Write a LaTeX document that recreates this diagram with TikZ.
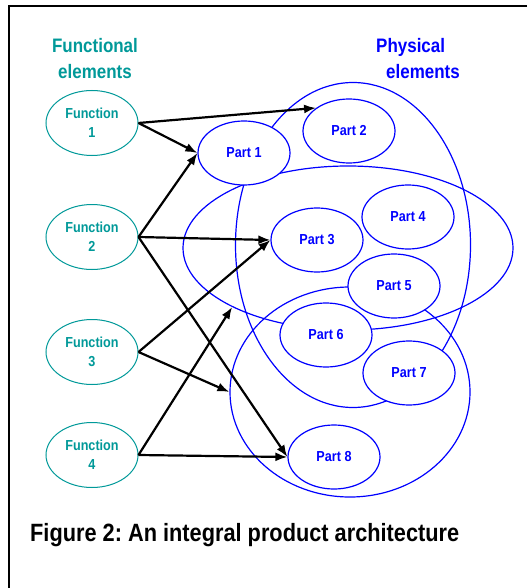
\documentclass[tikz,border=0pt]{standalone}
\usepackage{fontspec}
\setmainfont[FakeStretch=0.87]{Liberation Sans}
\usepackage{xcolor}
\usetikzlibrary{positioning, shapes.geometric, arrows.meta}
\definecolor{fteal}{RGB}{0,153,153}
\frenchspacing

\begin{document}
\begin{tikzpicture}[
          x=1pt, y=-1pt,
          fn/.style={ellipse,draw=fteal,line width=1pt,fill=white,minimum width=92pt,minimum height=65pt,inner sep=0pt,
            text=fteal,align=center,font=\bfseries\fontsize{14.5}{19}\selectfont},
          part/.style={ellipse,draw=blue,line width=1.2pt,fill=white,minimum width=92pt,minimum height=64pt,inner sep=0pt,
            text=blue,font=\bfseries\fontsize{14.5}{19}\selectfont},
          grp/.style={ellipse,draw=blue,line width=1.2pt,inner sep=0pt},
          head/.style={font=\bfseries\fontsize{19.5}{26}\selectfont,inner sep=0pt},
          arr/.style={-{Latex[length=12pt,width=9pt]},line width=2.2pt}
        ]
        \useasboundingbox (0,0) rectangle (527,588);
        \draw[line width=2pt] (527,6) -- (9,6) -- (9,588);
        % headings
        \node[head,text=fteal,align=center] (fhead) at (95,59) {Functional\\elements};
        \node[head,text=blue,align=left,anchor=west] (phead) at (376,59) {Physical\\\hspace*{10pt}elements};
        % groups of parts
        \node[grp,minimum width=235pt,minimum height=325pt] (ga) at (353,245) {};
        \node[grp,minimum width=330pt,minimum height=164pt] (gb) at (348,248) {};
        \node[grp,minimum width=240pt,minimum height=210pt] (gc) at (350,392) {};
        % elements
        \foreach\i/\y in {1/123,2/237,3/352,4/455}{\node[fn] (f\i) at (92,\y) {Function\\\i};}
        \foreach\i/\x/\y in {1/244/153,2/349/131,3/317/240,4/408/217,5/394/286,6/326/335,7/409/373,8/334/457}{
          \node[part] (p\i) at (\x,\y) {Part \i};
        }
        \draw[arr] (f1.east) -- (p2.145);
        \draw[arr] (f1.east) -- (p1.west);
        \draw[arr] (f2.east) -- (p1.west);
        \draw[arr] (f2.east) -- (p3.west);
        \draw[arr] (f2.east) -- (p8.west);
        \draw[arr] (f3.east) -- (p3.west);
        \draw[arr] (f3.east) -- (gc.west);
        \draw[arr] (f4.east) -- (gb.207);
        \draw[arr] (f4.east) -- (p8.west);
        \node[anchor=base west,inner sep=0pt,font=\bfseries\fontsize{25}{30}\selectfont] (cap) at (30,541)
          {Figure 2: An integral product architecture};
      \end{tikzpicture}
\end{document}
